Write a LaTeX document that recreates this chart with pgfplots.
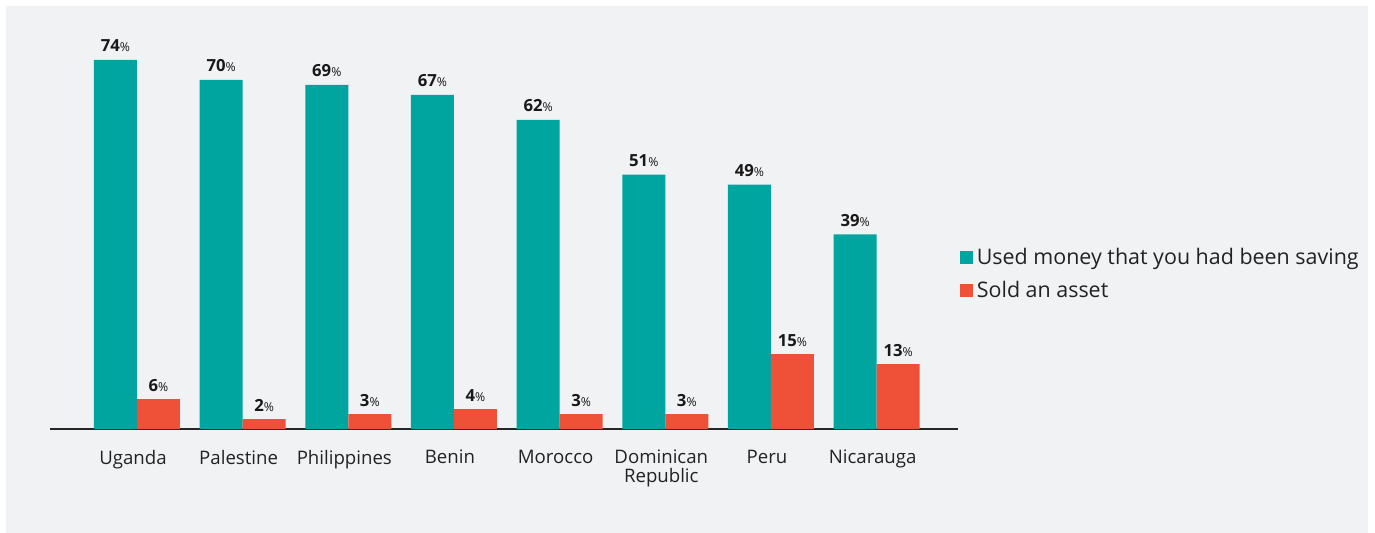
\documentclass[border=0pt]{standalone}
\usepackage{pgfplots}
\pgfplotsset{compat=1.18}
\usepackage{fontspec}
\setmainfont{Open Sans}
\definecolor{tealbar}{HTML}{00A59F}
\definecolor{redbar}{HTML}{EE5138}
\definecolor{bg}{HTML}{F1F2F4}
\definecolor{txt}{HTML}{222222}
\begin{document}
\begin{tikzpicture}
% 1 px = 0.02 cm, picture 1375 x 532 px
\useasboundingbox (0,0) rectangle (27.5,10.64);
\fill[white] (0,-0.2) rectangle (27.5,10.64);
\fill[bg] (0.12,-0.2) rectangle (27.36,10.52);
\begin{axis}[
    at={(1.0cm,2.06cm)}, anchor=south west,
    scale only axis,
    width=18.16cm, height=8.18cm,
    xmin=-0.823, xmax=7.77, ymin=0, ymax=82,
    ybar=0pt, bar width=0.86cm,
    axis x line=bottom, axis y line=none,
    x axis line style={-, black!85, line width=0.9pt},
    xtick=data, major tick length=0pt,
    xticklabels={Uganda, Palestine, Philippines, Benin, Morocco, {Dominican\\Republic}, Peru, Nicarauga},
    xticklabel style={font=\fontsize{10.6}{10.8}\selectfont, text=txt, align=center, anchor=north, yshift=-0.3cm, xshift=-0.08cm},
    /pgf/number format/assume math mode=true,
    nodes near coords={\textbf{\pgfmathprintnumber{\pgfplotspointmeta}}{\fontsize{7}{8}\selectfont\%}},
    nodes near coords style={font=\fontsize{9.5}{10}\selectfont, text=black!90, anchor=base, inner sep=0pt, yshift=0.16cm},
    legend style={at={(1.0,0.379)}, anchor=west, draw=none, fill=none,
        font=\fontsize{12.2}{13}\selectfont, text=txt, inner sep=0pt, xshift=0.04cm,
        row sep=0.14cm, legend cell align=left},
]
\addplot[fill=tealbar, draw=none,
    legend image code/.code={\fill[tealbar] (0,-0.13cm) rectangle (0.26cm,0.13cm);}]
    coordinates {(0,74)(1,70)(2,69)(3,67)(4,62)(5,51)(6,49)(7,39)};
\addlegendentry{Used money that you had been saving}
\addplot[fill=redbar, draw=none,
    legend image code/.code={\fill[redbar] (0,-0.13cm) rectangle (0.26cm,0.13cm);}]
    coordinates {(0,6)(1,2)(2,3)(3,4)(4,3)(5,3)(6,15)(7,13)};
\addlegendentry{Sold an asset}
\end{axis}
\end{tikzpicture}
\end{document}
